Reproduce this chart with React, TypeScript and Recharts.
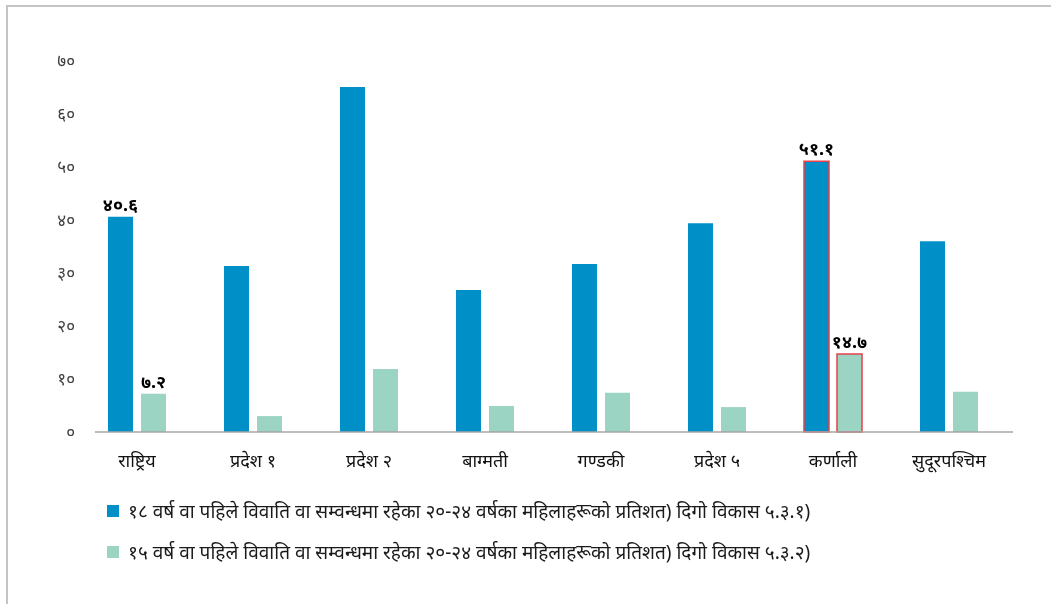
import React from "react";
import { BarChart, Bar, XAxis, YAxis, Legend, LabelList, Cell, ReferenceLine } from "recharts";

// categories (provinces) and the two series
const categories = [
  "राष्ट्रिय",
  "प्रदेश १",
  "प्रदेश २",
  "बाग्मती",
  "गण्डकी",
  "प्रदेश ५",
  "कर्णाली",
  "सुदूरपश्चिम",
];
const marriedBefore18 = [40.6, 31.3, 65.1, 26.8, 31.7, 39.4, 51.1, 36.0];
const marriedBefore15 = [7.2, 3.0, 11.9, 4.9, 7.4, 4.7, 14.7, 7.6];
// only two categories carry a value label
const labelsBefore18 = ["४०.६", "", "", "", "", "", "५१.१", ""];
const labelsBefore15 = ["७.२", "", "", "", "", "", "१४.७", ""];
const highlighted = "कर्णाली";

const yTicks = [0, 10, 20, 30, 40, 50, 60, 70];
const yTickLabels = ["०", "१०", "२०", "३०", "४०", "५०", "६०", "७०"];

const seriesNames = [
  "१८ वर्ष वा पहिले विवाति वा सम्वन्धमा रहेका २०-२४ वर्षका महिलाहरूको प्रतिशत) दिगो विकास ५.३.१)",
  "१५ वर्ष वा पहिले विवाति वा सम्वन्धमा रहेका २०-२४ वर्षका महिलाहरूको प्रतिशत) दिगो विकास ५.३.२)",
];
const colors = ["#008fc7", "#9bd4c2"];

const FONT = "'Noto Sans', 'Noto Sans Devanagari', 'Lohit Devanagari', 'FreeSans', sans-serif";

const data = categories.map((name, i) => ({
  name,
  before18: marriedBefore18[i],
  before15: marriedBefore15[i],
  label18: labelsBefore18[i] || undefined,
  label15: labelsBefore15[i] || undefined,
}));

const LegendBox = () => (
  <div
    style={{
      height: 88,
      boxSizing: "border-box",
      paddingTop: 11,
      paddingLeft: 99,
      fontFamily: FONT,
      fontSize: 19,
      color: "#1a1a1a",
    }}
  >
    {seriesNames.map((n, i) => (
      <div
        key={n}
        style={{ display: "flex", alignItems: "center", height: 24, marginBottom: 17 }}
      >
        <span
          style={{
            width: 12,
            height: 12,
            background: colors[i],
            marginRight: 9,
            flexShrink: 0,
          }}
        />
        <span style={{ whiteSpace: "nowrap" }}>{n}</span>
      </div>
    ))}
  </div>
);

// baseline is drawn a little in from the left of the plot, as in the source
const BaseLine = (p: any) => (
  <line x1={p.x1 + 16} y1={p.y1} x2={p.x2 + 6} y2={p.y2} stroke="#a6a6a6" strokeWidth={1.5} />
);

const App = () => {
  return (
    <div style={{ position: "relative" }}>
      {/* light frame round the chart */}
      <div
        style={{
          position: "fixed",
          left: 6,
          top: 5,
          right: -20,
          bottom: -20,
          borderTop: "2px solid #c4c4c4",
          borderLeft: "2px solid #c4c4c4",
          pointerEvents: "none",
        }}
      />
      <BarChart
        width={1035}
        height={590}
        data={data}
        margin={{ top: 53, right: 36, left: 21, bottom: 22 }}
        barSize={25}
        barGap={8}
      >
        <XAxis
          dataKey="name"
          height={56}
          tickSize={0}
          tickMargin={22}
          tickLine={false}
          axisLine={false}
          tick={{ fill: "#111", fontSize: 18, fontFamily: FONT }}
        />
        <YAxis
          domain={[0, 70]}
          ticks={yTicks}
          width={50}
          tickSize={0}
          tickMargin={4}
          axisLine={false}
          tickLine={false}
          tickFormatter={(v: number) => yTickLabels[yTicks.indexOf(v)]}
          tick={{ fill: "#404040", fontSize: 17, fontFamily: FONT }}
        />
        <Legend verticalAlign="bottom" content={() => <LegendBox />} wrapperStyle={{ left: 0, width: 1035 }} />
        <Bar dataKey="before18" name={seriesNames[0]} fill={colors[0]} isAnimationActive={false}>
          {data.map((d) => (
            <Cell
              key={d.name}
              stroke={d.name === highlighted ? "#e8404a" : "none"}
              strokeWidth={1.5}
            />
          ))}
          <LabelList
            dataKey="label18"
            position="top"
            offset={6}
            fill="#000"
            fontSize={18}
            fontWeight="bold"
            fontFamily={FONT}
          />
        </Bar>
        <Bar dataKey="before15" name={seriesNames[1]} fill={colors[1]} isAnimationActive={false}>
          {data.map((d) => (
            <Cell
              key={d.name}
              stroke={d.name === highlighted ? "#e8404a" : "none"}
              strokeWidth={1.5}
            />
          ))}
          <LabelList
            dataKey="label15"
            position="top"
            offset={6}
            fill="#000"
            fontSize={18}
            fontWeight="bold"
            fontFamily={FONT}
          />
        </Bar>
        <ReferenceLine y={0} shape={BaseLine} />
      </BarChart>
    </div>
  );
};

export default App;
